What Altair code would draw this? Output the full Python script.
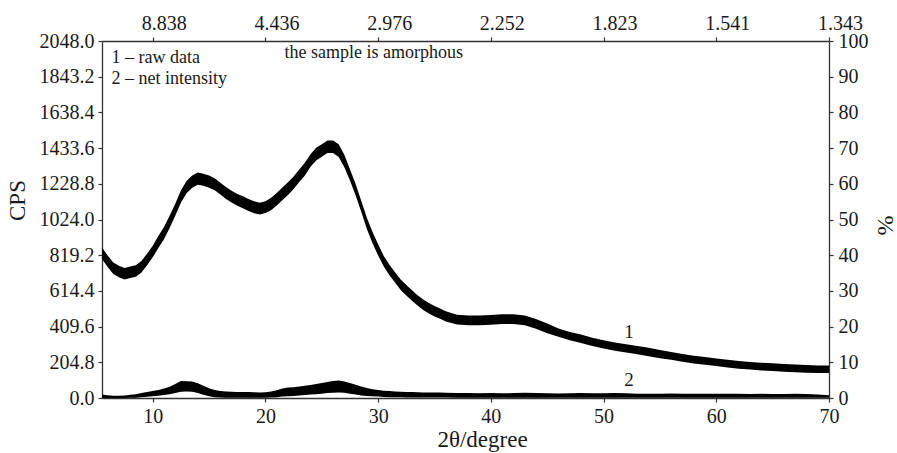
import altair as alt
import pandas as pd

# 2θ positions (degrees) at which the noisy bands were read
two_theta = [5.5, 6.0, 6.5, 7.0, 7.5, 8.0, 8.5, 9.0, 9.5, 10.0,
             10.5, 11.0, 11.5, 12.0, 12.5, 13.0, 13.5, 14.0, 14.5, 15.0,
             15.5, 16.0, 16.5, 17.0, 17.5, 18.0, 18.5, 19.0, 19.5, 20.0,
             20.5, 21.0, 21.5, 22.0, 22.5, 23.0, 23.5, 24.0, 24.5, 25.0,
             25.5, 26.0, 26.5, 27.0, 27.5, 28.0, 28.5, 29.0, 29.5, 30.0,
             30.5, 31.0, 31.5, 32.0, 32.5, 33.0, 33.5, 34.0, 34.5, 35.0,
             35.5, 36.0,
             37, 38, 39, 40, 41, 42, 43, 44, 45,
             46, 47, 48, 49, 50, 51, 52, 53, 54, 55,
             56, 57, 58, 59, 60, 61, 62, 63, 64, 65, 66, 67, 68, 69, 70]

# curve 1 (raw data): lower / upper edge of the noise band, CPS
raw_low = [797, 752, 712, 692, 680, 688, 696, 720, 762, 807,
           860, 911, 975, 1045, 1120, 1175, 1206, 1224, 1217, 1206,
           1192, 1167, 1142, 1121, 1103, 1089, 1073, 1060, 1052, 1061,
           1077, 1104, 1135, 1165, 1199, 1239, 1277, 1327, 1363, 1384,
           1405, 1405, 1383, 1324, 1248, 1163, 1068, 970, 888, 818,
           755, 704, 662, 620, 588, 558, 530, 505, 485, 468,
           455, 439,
           422, 417, 417, 420, 425, 424, 417, 397, 372,
           351, 331, 316, 298, 284, 271, 261, 251, 240, 228,
           220, 208, 198, 191, 183, 175, 168, 163, 158, 155, 151, 148, 145, 143, 143]
raw_high = [863, 818, 778, 758, 746, 754, 762, 786, 828, 873,
            930, 981, 1045, 1115, 1190, 1245, 1276, 1294, 1287, 1276,
            1260, 1235, 1210, 1189, 1171, 1157, 1141, 1128, 1120, 1129,
            1149, 1176, 1207, 1237, 1271, 1311, 1349, 1399, 1435, 1456,
            1477, 1477, 1455, 1396, 1312, 1227, 1132, 1034, 952, 882,
            815, 764, 722, 680, 648, 618, 590, 565, 545, 528,
            513, 497,
            478, 473, 473, 476, 481, 480, 473, 453, 428,
            399, 379, 364, 346, 332, 319, 309, 299, 288, 276,
            264, 252, 242, 235, 227, 219, 212, 207, 202, 199, 195, 192, 189, 187, 187]

# curve 2 (net intensity): lower / upper edge of the noise band, CPS
net_low = [0, 0, 0, 0, 0, 1, 2, 4, 7, 10,
           13, 17, 22, 28, 36, 38, 36, 28, 18, 10,
           5, 3, 2, 2, 2, 2, 2, 2, 2, 2,
           3, 5, 8, 10, 12, 14, 17, 20, 22, 25,
           28, 30, 32, 30, 25, 20, 15, 12, 10, 8,
           6, 5, 4, 4, 3, 3, 3, 3, 3, 3,
           3, 3,
           2, 2, 2, 2, 2, 2, 2, 2, 2,
           2, 2, 2, 2, 2, 2, 2, 2, 2, 2,
           2, 2, 2, 2, 2, 2, 2, 2, 2, 2, 2, 2, 2, 2, 2]
net_high = [20, 16, 13, 13, 15, 18, 22, 28, 34, 40,
            46, 55, 65, 80, 98, 96, 94, 84, 70, 56,
            46, 40, 38, 36, 35, 35, 34, 33, 31, 33,
            38, 45, 54, 60, 62, 66, 70, 75, 80, 86,
            92, 98, 100, 95, 86, 76, 66, 58, 50, 46,
            42, 40, 38, 36, 35, 34, 33, 32, 32, 31,
            31, 30,
            28, 28, 27, 28, 27, 28, 30, 28, 27,
            26, 27, 28, 27, 27, 29, 27, 25, 25, 25,
            26, 24, 25, 24, 25, 24, 24, 23, 24, 23, 23, 24, 23, 20, 16]

# axis ticks
x_ticks = [10, 20, 30, 40, 50, 60, 70]
d_labels = ["8.838", "4.436", "2.976", "2.252", "1.823", "1.541", "1.343"]
cps_ticks = [0.0, 204.8, 409.6, 614.4, 819.2, 1024.0, 1228.8, 1433.6, 1638.4, 1843.2, 2048.0]
pct_ticks = [0, 10, 20, 30, 40, 50, 60, 70, 80, 90, 100]

# annotations
note_text = ["1 – raw data", "2 – net intensity", "the sample is amorphous"]
note_x = [6.35, 6.35, 21.7]
note_y = [1922, 1800, 1950]
curve_text = ["1", "2"]
curve_x = [52.25, 52.25]
curve_y = [344, 69]

df = pd.DataFrame({"two_theta": two_theta, "raw_low": raw_low, "raw_high": raw_high,
                   "net_low": net_low, "net_high": net_high})
notes = pd.DataFrame({"t": note_text, "x": note_x, "y": note_y})
curves = pd.DataFrame({"t": curve_text, "x": curve_x, "y": curve_y})

FONT = "Liberation Serif"
x_scale = alt.Scale(domain=[5.5, 70], nice=False, zero=False)
y_scale = alt.Scale(domain=[0, 2048], nice=False, zero=False)

label_expr = " : ".join(
    f"datum.value == {v} ? '{l}'" for v, l in zip(x_ticks, d_labels)) + " : ''"

base = alt.Chart(df)

raw = base.mark_area(color="black", opacity=1).encode(
    x=alt.X("two_theta:Q", scale=x_scale,
            axis=alt.Axis(orient="bottom", values=x_ticks, format="d", labelFlush=False,
                          title="2θ/degree", titleX=380, titleY=48,
                          titleBaseline="alphabetic", titleFontSize=23, labelPadding=4)),
    y=alt.Y("raw_low:Q", scale=y_scale,
            axis=alt.Axis(orient="left", values=cps_ticks, format=".1f", labelFlush=False,
                          title="CPS", titleX=-85, titleY=159, titleAngle=-90,
                          titleAlign="center", titleBaseline="middle", titleFontSize=23,
                          labelPadding=4)),
    y2="raw_high:Q",
)

net = base.mark_area(color="black", opacity=1).encode(
    x=alt.X("two_theta:Q", scale=x_scale, axis=None),
    y=alt.Y("net_low:Q", scale=y_scale, axis=None),
    y2="net_high:Q",
)

frame = base.mark_line(opacity=0).transform_calculate(
    pct="datum.raw_high / 20.48"
).encode(
    x=alt.X("two_theta:Q", scale=x_scale,
            axis=alt.Axis(orient="top", values=x_ticks, labelExpr=label_expr,
                          labelFlush=False, labelOffset=11, title="", labelPadding=4)),
    y=alt.Y("pct:Q", scale=alt.Scale(domain=[0, 100], nice=False, zero=False),
            axis=alt.Axis(orient="right", values=pct_ticks, format="d", labelFlush=False,
                          title="%", titleX=55, titleY=184, titleAngle=90,
                          titleAlign="center", titleBaseline="middle", titleFontSize=24,
                          labelPadding=5)),
)

note_layer = alt.Chart(notes).mark_text(
    align="left", baseline="alphabetic", font=FONT, fontSize=18, color="#1a1a1a"
).encode(
    x=alt.X("x:Q", scale=x_scale, axis=None),
    y=alt.Y("y:Q", scale=y_scale, axis=None),
    text="t:N",
)

curve_layer = alt.Chart(curves).mark_text(
    align="center", baseline="alphabetic", font=FONT, fontSize=19, color="#1a1a1a"
).encode(
    x=alt.X("x:Q", scale=x_scale, axis=None),
    y=alt.Y("y:Q", scale=y_scale, axis=None),
    text="t:N",
)

chart = alt.layer(raw, net, frame, note_layer, curve_layer).resolve_scale(
    y="independent"
).resolve_axis(
    x="independent", y="independent"
).properties(
    width=727, height=357,
    autosize=alt.AutoSizeParams(type="none"),
    padding={"left": 102, "top": 41, "right": 68, "bottom": 55},
    background="white",
).configure_view(
    stroke=None
).configure_axis(
    labelFont=FONT, titleFont=FONT, labelFontSize=20, labelColor="#1a1a1a",
    titleColor="#1a1a1a", titleFontWeight="normal", domainColor="#333333",
    tickColor="#333333", tickSize=4, domainWidth=1.3, tickWidth=1.2, grid=False,
)

chart.save("out.html", embed_options={"renderer": "svg", "actions": False})
